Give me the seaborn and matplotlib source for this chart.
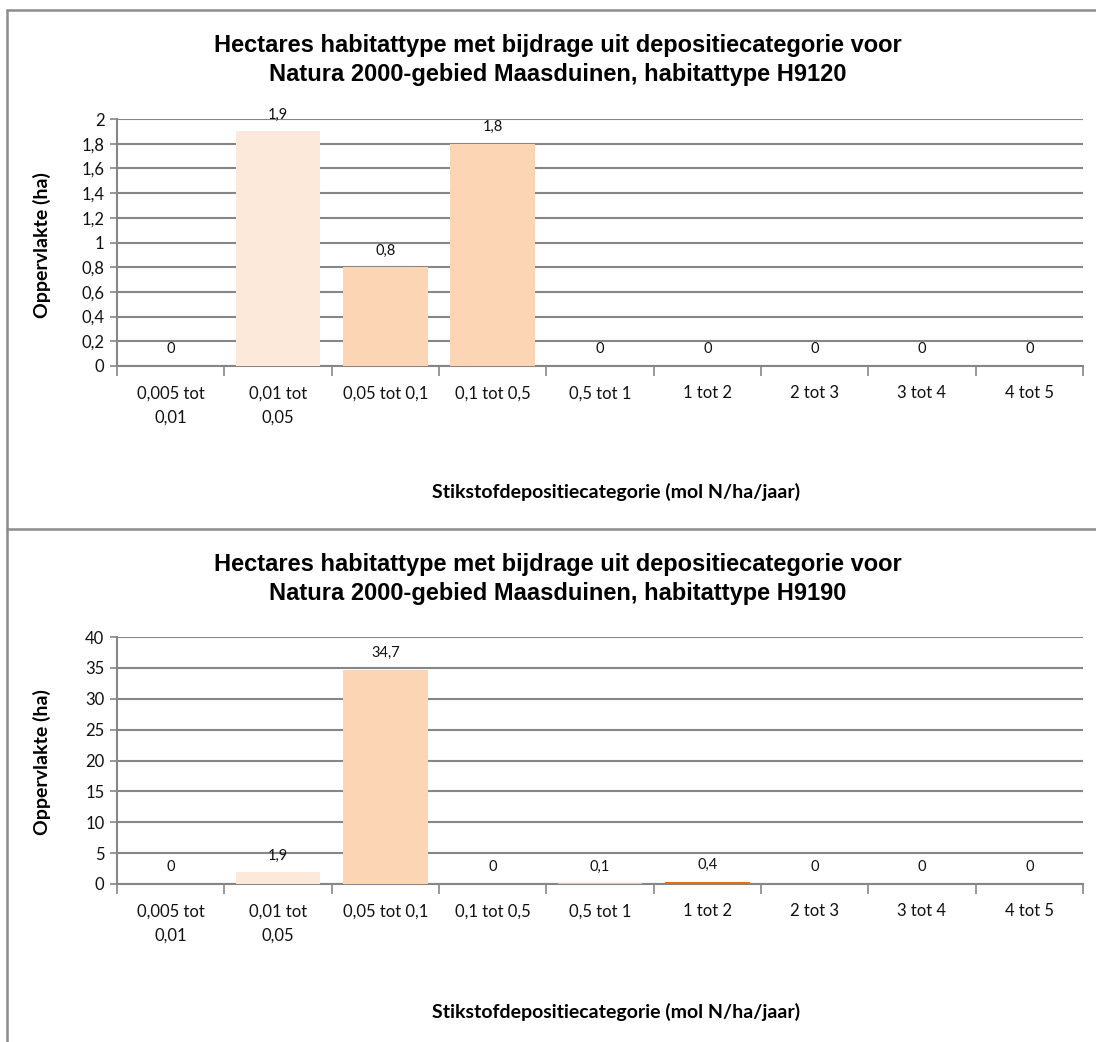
import matplotlib
matplotlib.use("Agg")
import matplotlib.pyplot as plt
from matplotlib.lines import Line2D
import numpy as np
import pandas as pd
import seaborn as sns

# Deposition categories (mol N/ha/jaar)
categories = ["0,005 tot 0,01", "0,01 tot 0,05", "0,05 tot 0,1", "0,1 tot 0,5",
              "0,5 tot 1", "1 tot 2", "2 tot 3", "3 tot 4", "4 tot 5"]
tick_labels = ["0,005 tot\n0,01", "0,01 tot\n0,05", "0,05 tot 0,1", "0,1 tot 0,5",
               "0,5 tot 1", "1 tot 2", "2 tot 3", "3 tot 4", "4 tot 5"]

# Hectares per category
h9120_values = [0, 1.9, 0.8, 1.8, 0, 0, 0, 0, 0]
h9190_values = [0, 1.9, 34.7, 0, 0.1, 0.4, 0, 0, 0]

# Category colours (light to dark orange)
category_colors = ["#FEF3EB", "#FDE9D9", "#FCD5B4", "#FCD5B4", "#FABF8F",
                   "#E46C0A", "#C0504D", "#963634", "#632523"]

titles = [
    "Hectares habitattype met bijdrage uit depositiecategorie voor\nNatura 2000-gebied Maasduinen, habitattype H9120",
    "Hectares habitattype met bijdrage uit depositiecategorie voor\nNatura 2000-gebied Maasduinen, habitattype H9190",
]
ylabel = "Oppervlakte (ha)"
xlabel = "Stikstofdepositiecategorie (mol N/ha/jaar)"

sns.set_theme(style="white")
plt.rcParams["font.family"] = ["Lato", "DejaVu Sans"]

W, H = 1096, 1042
fig = plt.figure(figsize=(W / 100, H / 100), dpi=100)
fig.patch.set_facecolor("white")

GRID = "#868686"
TEXT = "#111111"


def px_axes(left, top, right, bottom):
    return fig.add_axes([left / W, 1 - bottom / H, (right - left) / W, (bottom - top) / H])


panels = [
    dict(values=h9120_values, top=119, bottom=366, ymax=2, step=0.2, title=titles[0],
         title_y=60, label_y=492, ylab_y=245),
    dict(values=h9190_values, top=637, bottom=884, ymax=40, step=5, title=titles[1],
         title_y=579, label_y=1012, ylab_y=762),
]


def fmt(v):
    s = f"{v:g}"
    return s.replace(".", ",")


for p in panels:
    ax = px_axes(117, p["top"], 1083, p["bottom"])
    df = pd.DataFrame({"cat": categories, "val": p["values"]})
    sns.barplot(data=df, x="cat", y="val", hue="cat", order=categories,
                palette=dict(zip(categories, category_colors)), dodge=False,
                width=0.79, legend=False, ax=ax, saturation=1, zorder=3,
                linewidth=0, edgecolor="none")
    ax.set_xlim(-0.5, len(categories) - 0.5)
    ax.set_ylim(0, p["ymax"])
    yt = np.arange(0, p["ymax"] + p["step"] / 2, p["step"])
    ax.set_yticks(yt)
    ax.set_yticklabels([fmt(round(t, 1)) for t in yt], fontsize=12, color=TEXT)
    ax.yaxis.grid(True, color=GRID, linewidth=1.5, zorder=0)
    ax.set_axisbelow(True)
    ax.tick_params(axis="y", direction="out", length=5, width=1.2, color=GRID, pad=4, left=True)

    # category axis: labels at centres, tick marks on boundaries
    ax.set_xticks(range(len(categories)))
    ax.set_xticklabels(tick_labels, fontsize=12, color=TEXT, linespacing=1.65)
    ax.tick_params(axis="x", which="major", length=0, pad=14, bottom=True)
    ax.set_xticks(np.arange(-0.5, len(categories)), minor=True)
    ax.tick_params(axis="x", which="minor", direction="out", length=7, width=1.2,
                   color=GRID, bottom=True)
    for lbl in ax.get_xticklabels():
        lbl.set_verticalalignment("top")

    for s in ["top", "right"]:
        ax.spines[s].set_visible(False)
    ax.spines["left"].set_color(GRID)
    ax.spines["left"].set_linewidth(1.5)
    ax.spines["bottom"].set_color(GRID)
    ax.spines["bottom"].set_linewidth(1.5)
    ax.spines["bottom"].set_zorder(2)
    ax.set_xlabel("")
    ax.set_ylabel("")

    # value labels
    for i, v in enumerate(p["values"]):
        ax.annotate(fmt(v), (i, v), xytext=(0, 7), textcoords="offset points",
                    ha="center", va="bottom", fontsize=10.5, color=TEXT)

    fig.text(558 / W, 1 - p["title_y"] / H, p["title"], ha="center", va="center",
             fontsize=17, fontweight="bold", family=["Liberation Sans", "DejaVu Sans"],
             linespacing=1.3, color="black")
    fig.text(616 / W, 1 - p["label_y"] / H, xlabel, ha="center", va="center",
             fontsize=14, fontweight="bold", color="black")
    fig.text(42 / W, 1 - p["ylab_y"] / H, ylabel, ha="center", va="center",
             rotation=90, fontsize=14, fontweight="bold", color="black")

# chart frames
for coords in [([7, 7], [10, 1042]), ([7, 1096], [10, 10]), ([7, 1096], [529, 529])]:
    xs, ys = coords
    fig.add_artist(Line2D([x / W for x in xs], [1 - y / H for y in ys],
                          color="#8c8c8c", linewidth=1.8, transform=fig.transFigure))

fig.savefig("out.png", dpi=100, facecolor="white")
